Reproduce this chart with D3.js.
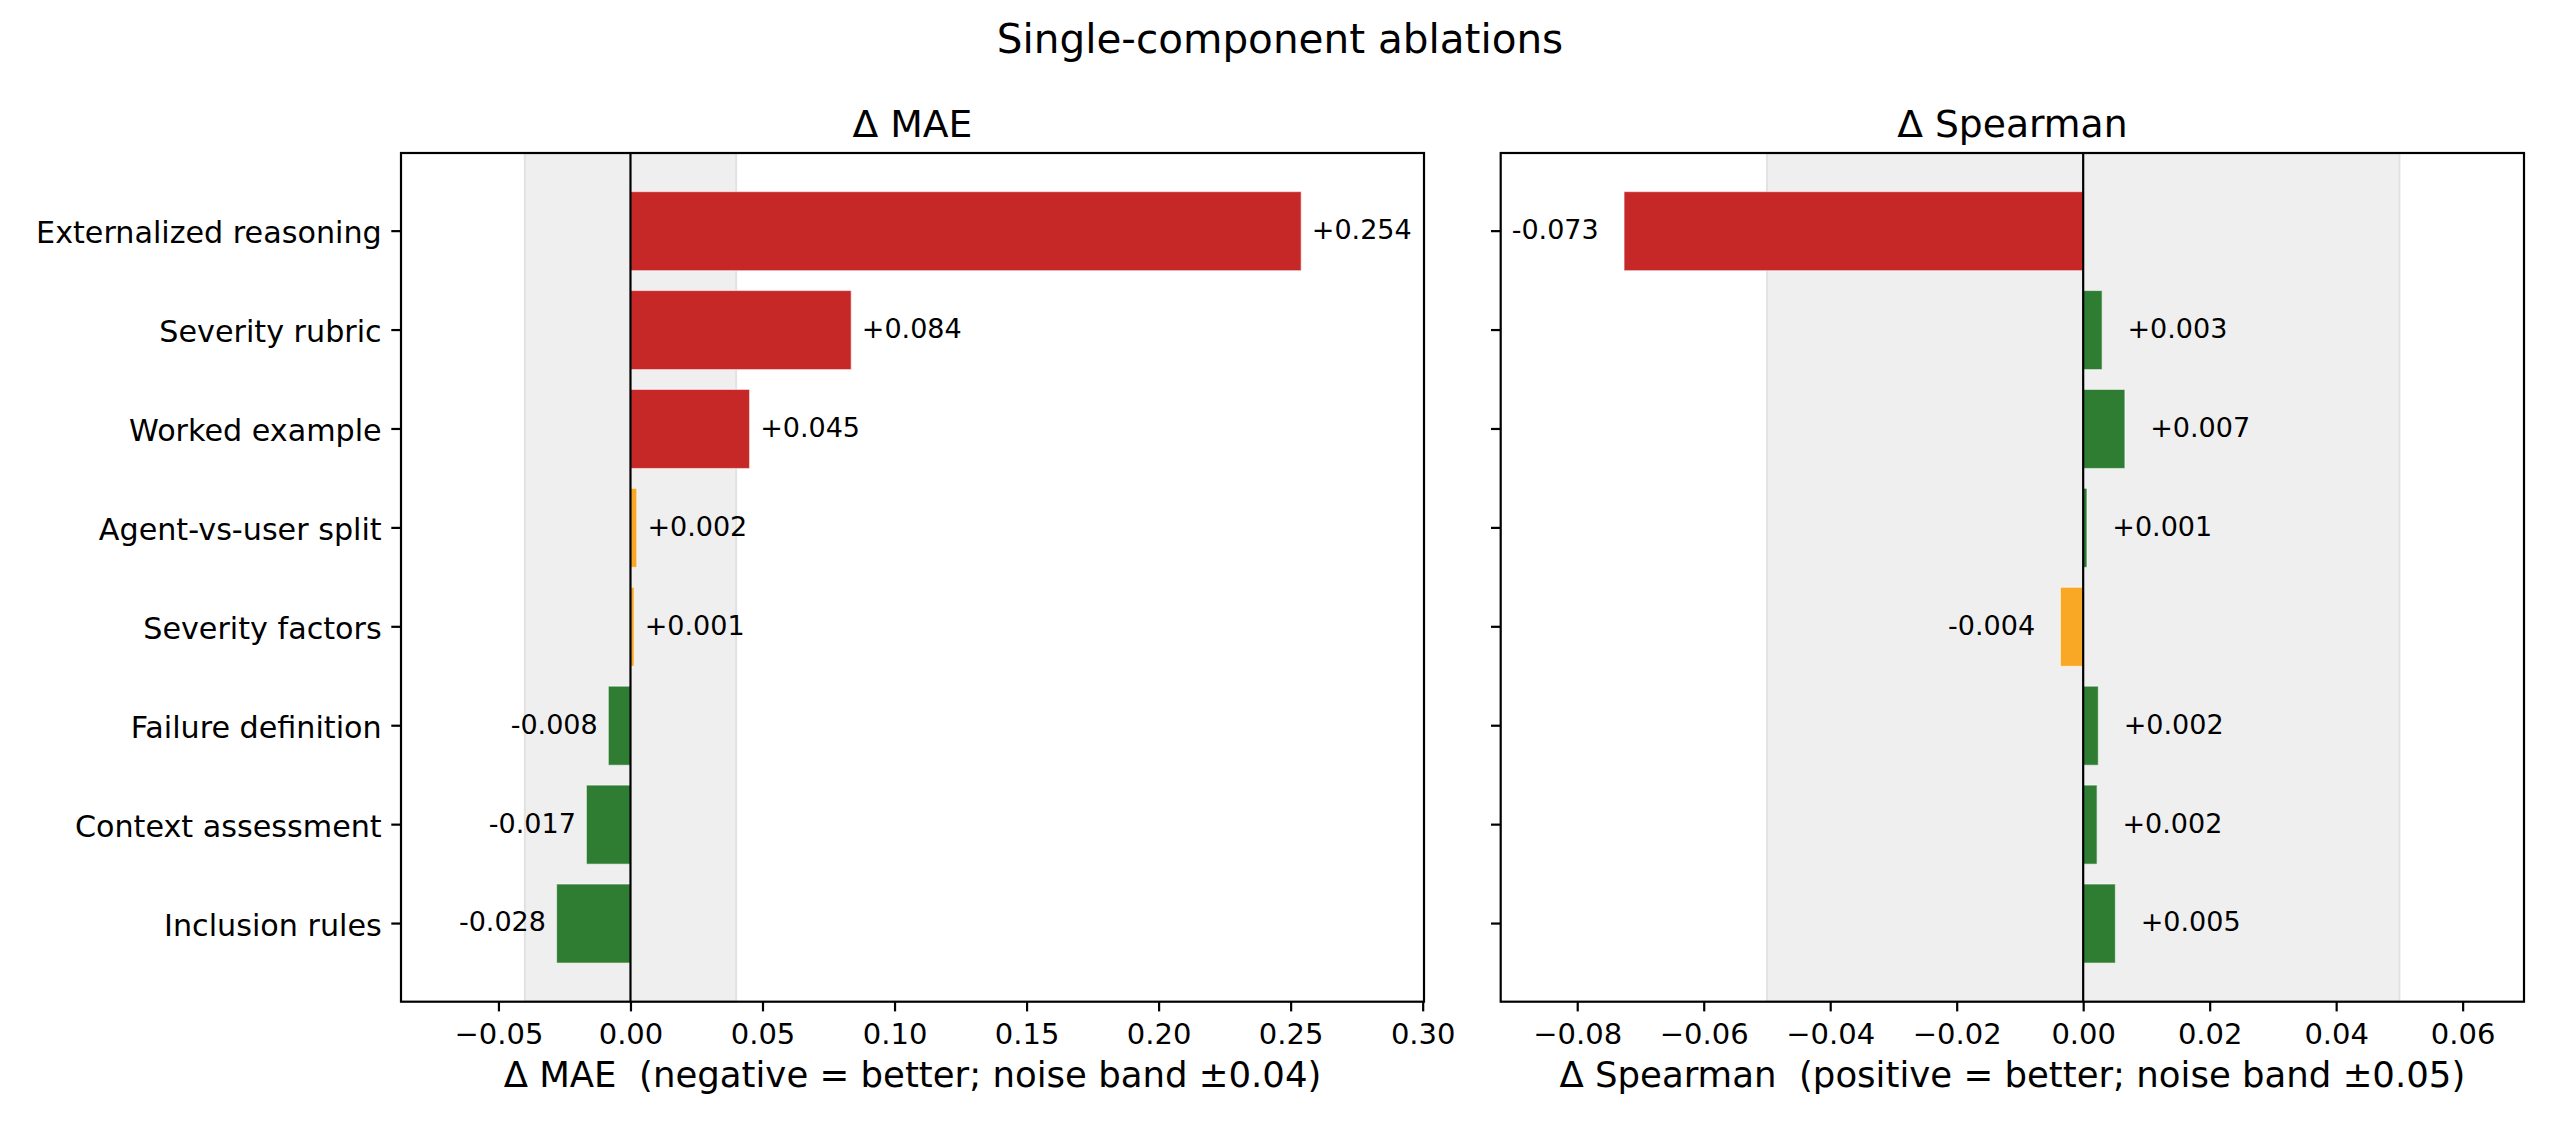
<!DOCTYPE html>
<html>
<head>
<meta charset="utf-8">
<script src="https://cdn.jsdelivr.net/npm/d3@7/dist/d3.min.js"></script>
<style>
  html, body { margin: 0; padding: 0; background: #ffffff; }
  svg { display: block; }
  text { font-family: "DejaVu Sans", "Liberation Sans", sans-serif; fill: #000; }
</style>
</head>
<body>
<svg id="chart" width="2560" height="1134"></svg>
<script>
// ---------------- data ----------------
const components = [
  "Externalized reasoning",
  "Severity rubric",
  "Worked example",
  "Agent-vs-user split",
  "Severity factors",
  "Failure definition",
  "Context assessment",
  "Inclusion rules"
];
const maeDelta      = [0.254, 0.0836, 0.0451, 0.0024, 0.0014, -0.0084, -0.0167, -0.0280];
const maeVerdict    = ["worse", "worse", "worse", "neutral", "neutral", "better", "better", "better"];
const spearmanDelta = [-0.0726, 0.0030, 0.0066, 0.0006, -0.0036, 0.0024, 0.0022, 0.0051];
const spearmanVerdict = ["worse", "better", "better", "better", "neutral", "better", "better", "better"];
const maeTicks      = [-0.05, 0.00, 0.05, 0.10, 0.15, 0.20, 0.25, 0.30];
const spearmanTicks = [-0.08, -0.06, -0.04, -0.02, 0.00, 0.02, 0.04, 0.06];
const noiseBands    = [0.04, 0.05];
const suptitle      = "Single-component ablations";
const panelTitles   = ["\u0394 MAE", "\u0394 Spearman"];
const panelXLabels  = [
  "\u0394 MAE  (negative = better; noise band \u00b10.04)",
  "\u0394 Spearman  (positive = better; noise band \u00b10.05)"
];

// ---------------- layout ----------------
const svg = d3.select("#chart");
const W = 2560, H = 1134;
svg.append("rect").attr("width", W).attr("height", H).attr("fill", "#fff");

const plotTop = 153, plotBottom = 1001.7;
const panels = [
  { left: 401,    right: 1424, domain: [-0.0869, 0.3005], values: maeDelta,      verdict: maeVerdict,      ticks: maeTicks,      band: noiseBands[0], title: panelTitles[0], xlabel: panelXLabels[0], showY: true },
  { left: 1500.7, right: 2524, domain: [-0.0921, 0.0697], values: spearmanDelta, verdict: spearmanVerdict, ticks: spearmanTicks, band: noiseBands[1], title: panelTitles[1], xlabel: panelXLabels[1], showY: false }
];

const color = d3.scaleOrdinal()
  .domain(["worse", "neutral", "better"])
  .range(["#c62828", "#f9a825", "#2e7d32"]);

const y = d3.scaleBand()
  .domain(components)
  .range([plotTop, plotBottom])
  .paddingInner(0.2)
  .paddingOuter(0.39);

const tickLen = 9.7, lw = 2.2;
const fmtTick = v => d3.format(".2f")(v).replace("-", "\u2212");
const fmtVal = v => d3.format("+.3f")(v).replace("\u2212", "-");

// suptitle
svg.append("text")
  .attr("x", W / 2).attr("y", 53)
  .attr("text-anchor", "middle")
  .style("font-size", "40.5px")
  .text(suptitle);

panels.forEach(p => {
  const x = d3.scaleLinear().domain(p.domain).range([p.left, p.right]);
  const g = svg.append("g");

  // noise band
  g.append("rect")
    .attr("x", x(-p.band)).attr("y", plotTop)
    .attr("width", x(p.band) - x(-p.band)).attr("height", plotBottom - plotTop)
    .attr("fill", "#efefef").attr("stroke", "#e2e2e2").attr("stroke-width", 2);

  // bars
  g.selectAll("rect.bar")
    .data(components.map((c, i) => ({ c, v: p.values[i], k: p.verdict[i] })))
    .join("rect")
    .attr("class", "bar")
    .attr("x", d => x(Math.min(0, d.v)))
    .attr("width", d => Math.abs(x(d.v) - x(0)))
    .attr("y", d => y(d.c))
    .attr("height", y.bandwidth())
    .attr("fill", d => color(d.k))
    .attr("stroke", "#fff").attr("stroke-opacity", 0.55).attr("stroke-width", 1.2);

  // zero line
  g.append("line")
    .attr("x1", x(0)).attr("x2", x(0))
    .attr("y1", plotTop).attr("y2", plotBottom)
    .attr("stroke", "#000").attr("stroke-width", lw);

  // value labels
  g.selectAll("text.val")
    .data(components.map((c, i) => ({ c, v: p.values[i] })))
    .join("text")
    .attr("class", "val")
    .attr("x", d => x(d.v + (d.v >= 0 ? 0.004 : -0.004)))
    .attr("y", d => y(d.c) + y.bandwidth() / 2 + 7.9)
    .attr("text-anchor", d => d.v >= 0 ? "start" : "end")
    .style("font-size", "27px")
    .text(d => fmtVal(d.v));

  // x axis
  const xAxis = d3.axisBottom(x)
    .tickValues(p.ticks)
    .tickFormat(fmtTick)
    .tickSize(tickLen)
    .tickPadding(12);
  const gx = svg.append("g").attr("transform", `translate(0,${plotBottom})`).call(xAxis);
  gx.select(".domain").remove();
  gx.selectAll(".tick line").attr("stroke", "#000").attr("stroke-width", lw);
  gx.selectAll(".tick text")
    .attr("y", 0).attr("dy", 42.3)
    .style("font-size", "29px")
    .style("font-family", "DejaVu Sans")
    .attr("fill", "#000");

  // y axis
  const yAxis = d3.axisLeft(y)
    .tickSize(tickLen)
    .tickPadding(9.6)
    .tickFormat(p.showY ? (d => d) : (() => ""));
  const gy = svg.append("g").attr("transform", `translate(${p.left},0)`).call(yAxis);
  gy.select(".domain").remove();
  gy.selectAll(".tick line").attr("stroke", "#000").attr("stroke-width", lw);
  gy.selectAll(".tick text")
    .attr("dy", 12.1)
    .style("font-size", "30.2px")
    .style("font-family", "DejaVu Sans")
    .attr("fill", "#000");

  // frame
  svg.append("rect")
    .attr("x", p.left).attr("y", plotTop)
    .attr("width", p.right - p.left).attr("height", plotBottom - plotTop)
    .attr("fill", "none").attr("stroke", "#000").attr("stroke-width", lw);

  // title
  svg.append("text")
    .attr("x", (p.left + p.right) / 2).attr("y", 136.7)
    .attr("text-anchor", "middle")
    .style("font-size", "37.7px")
    .text(p.title);

  // x label (keep the double space)
  svg.append("text")
    .attr("x", (p.left + p.right) / 2).attr("y", 1087.3)
    .attr("text-anchor", "middle")
    .attr("xml:space", "preserve")
    .style("white-space", "pre")
    .style("font-size", "35.5px")
    .text(p.xlabel);
});
</script>
</body>
</html>
